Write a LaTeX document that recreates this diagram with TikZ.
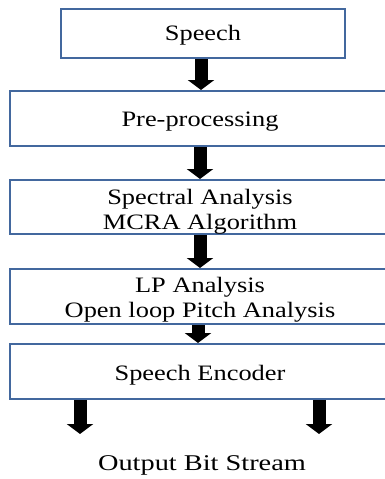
\documentclass[tikz,border=0pt]{standalone}
\usepackage{fontspec}
\usepackage{graphicx}
\setmainfont{Liberation Serif}
\usetikzlibrary{arrows.meta}
\definecolor{boxblue}{HTML}{43689E}
\newcommand{\sx}[1]{\scalebox{1.2}[1]{#1}}
\newcommand{\dn}[2][3.5pt]{\raisebox{-#1}[\height][\depth]{\begin{tabular}{@{}c@{}}#2\end{tabular}}}
\begin{document}
\begin{tikzpicture}[x=1pt,y=-1pt,
  box/.style={draw=boxblue, line width=2pt, fill=white, inner sep=0pt, align=center,
    font=\fontsize{22}{25}\selectfont},
  barrow/.style={line width=13pt, black,
    -{Triangle[width=26pt 0, length=10pt 0]}}]
\path[use as bounding box, clip] (0,0) rectangle (385,479);
\node[box, minimum width=284, minimum height=49] (speech) at (203,33.5) {\dn[2pt]{\sx{Speech}}};
\node[box, minimum width=380, minimum height=55] (pre) at (200,118.5) {\dn[3pt]{\sx{Pre-processing}}};
\node[box, minimum width=380, minimum height=54] (spec) at (200,207) {\dn[4.5pt]{\sx{Spectral Analysis}\\\sx{MCRA Algorithm}}};
\node[box, minimum width=380, minimum height=55] (lp) at (200,296.5) {\dn[3.5pt]{\sx{LP Analysis}\\\sx{Open loop Pitch Analysis}}};
\node[box, minimum width=380, minimum height=55] (enc) at (200,371.5) {\dn[4pt]{\sx{Speech Encoder}}};
\node[font=\fontsize{22.5}{25}\selectfont] (out) at (202,465) {\scalebox{1.26}[1]{Output Bit Stream}};
\coordinate (o1) at (80,434);
\coordinate (o2) at (319,434);
\draw[barrow] (speech.south -| 201,0) -- (pre.north -| 201,0);
\draw[barrow] (pre.south -| 200,0) -- (spec.north -| 200,0);
\draw[barrow] (spec.south -| 200,0) -- (lp.north -| 200,0);
\draw[barrow] (lp.south -| 198,0) -- (enc.north -| 198,0);
\draw[barrow] (enc.south -| o1) -- (o1);
\draw[barrow] (enc.south -| o2) -- (o2);
\end{tikzpicture}
\end{document}
